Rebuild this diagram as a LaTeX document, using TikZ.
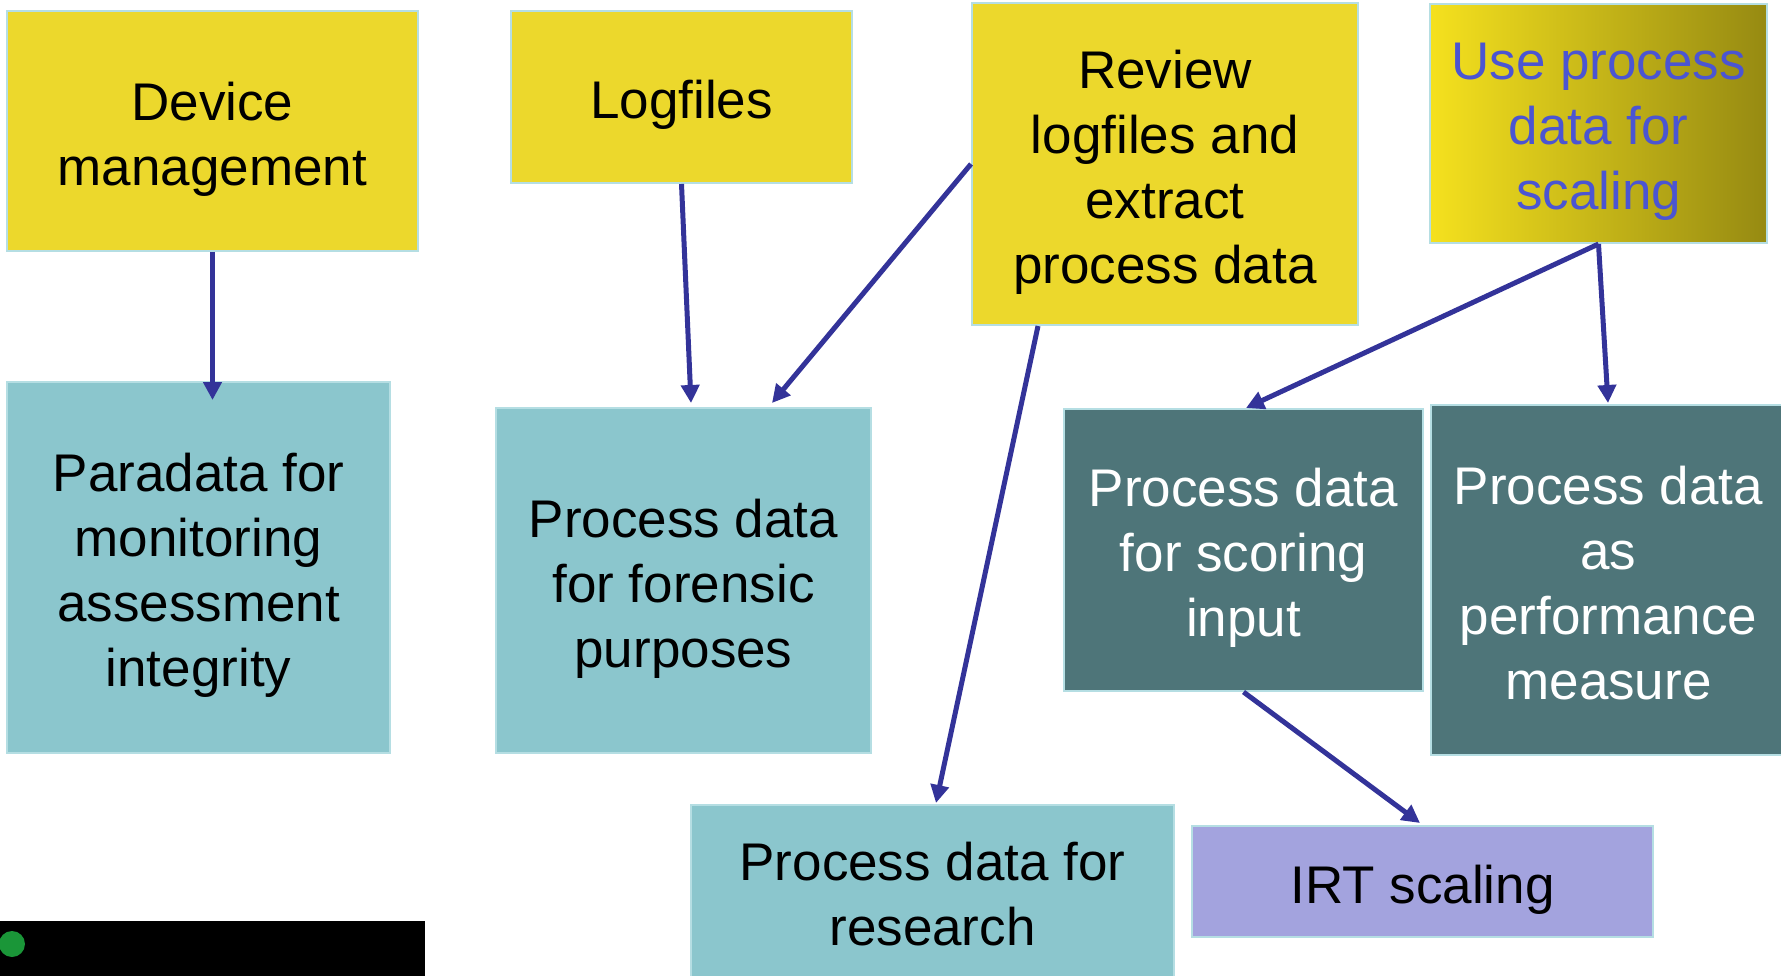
\documentclass[tikz,border=0pt]{standalone}
\usepackage{fontspec}
\setmainfont{Liberation Sans}
\usetikzlibrary{arrows.meta,calc}
\definecolor{boxyellow}{HTML}{ECD82C}
\definecolor{lightteal}{HTML}{8BC6CD}
\definecolor{darkteal}{HTML}{4E7579}
\definecolor{lavender}{HTML}{A3A3DE}
\definecolor{edgeblue}{HTML}{B5DEE3}
\definecolor{arrowblue}{HTML}{333399}
\definecolor{textblue}{HTML}{4B55D2}
\definecolor{goldleft}{HTML}{F5E11E}
\definecolor{goldright}{HTML}{968A12}
\definecolor{dotgreen}{HTML}{1A9638}
\begin{document}
\begin{tikzpicture}[x=1pt,y=-1pt,
  box/.style={draw=edgeblue, line width=2pt, inner sep=0pt},
  ybox/.style={box, fill=boxyellow},
  lbox/.style={box, fill=lightteal},
  dbox/.style={box, fill=darkteal},
  pbox/.style={box, fill=lavender},
  gbox/.style={box, left color=goldleft, right color=goldright},
  txt/.style={inner sep=0pt, align=center, text=black,
    font=\fontsize{53pt}{65pt}\selectfont},
  arr/.style={draw=arrowblue, line width=5pt, -{Triangle[length=18pt,width=18pt]}}
]
\useasboundingbox (0,0) rectangle (1781,976);

% top row
\node[ybox, minimum width=411, minimum height=240] (dev) at (212.5,131) {};
\node[ybox, minimum width=341, minimum height=172] (logf) at (681.5,97) {};
\node[ybox, minimum width=386, minimum height=322] (rev) at (1165,164) {};
\node[gbox, minimum width=337, minimum height=239] (use) at (1598.5,123.5) {};

% middle row
\node[lbox, minimum width=383, minimum height=371] (para) at (198.5,567.5) {};
\node[lbox, minimum width=375, minimum height=345] (fore) at (683.5,580.5) {};
\node[dbox, minimum width=359, minimum height=282] (scor) at (1243.5,550) {};
\node[dbox, minimum width=355, minimum height=350] (perf) at (1608.5,580) {};

% bottom row
\node[lbox, minimum width=483, minimum height=178] (res) at (932.5,894) {};
\node[pbox, minimum width=461, minimum height=111] (irt) at (1422.5,881.5) {};

% box texts, set a little below each box centre
\node[txt] (devt) at ([yshift=-8pt]dev.center) {Device\\management};
\node[txt] (logft) at ([yshift=-8pt]logf.center) {Logfiles};
\node[txt] (revt) at ([yshift=-8pt]rev.center) {Review\\logfiles and\\extract\\process data};
\node[txt, text=textblue] (uset) at ([yshift=-8pt]use.center) {Use process\\data for\\scaling};
\node[txt] (parat) at ([yshift=-8pt]para.center) {Paradata for\\monitoring\\assessment\\integrity};
\node[txt] (foret) at ([yshift=-8pt]fore.center) {Process data\\for forensic\\purposes};
\node[txt, text=white] (scort) at ([yshift=-8pt]scor.center) {Process data\\for scoring\\input};
\node[txt, text=white] (perft) at ([yshift=-3.5pt]perf.center) {Process data\\as\\performance\\measure};
\node[txt] (rest) at (res.center) {Process data for\\research};
\node[txt] (irtt) at ([yshift=-8pt]irt.center) {IRT scaling};

% bar with status dot
\fill[black] (0,921) rectangle (425,976);
\fill[dotgreen] (12,944) circle (13);

% arrow tips
\coordinate (t1) at (212.5,400);
\coordinate (t2) at (691,403);
\coordinate (t3) at (772,403);
\coordinate (t4) at (936,803);
\coordinate (t5) at (1246,408);
\coordinate (t6) at (1608,403);
\coordinate (t7) at (1420,823);

\draw[arr] (dev.south) -- (t1);
\draw[arr] (logf.south) -- (t2);
\draw[arr] (rev.west) -- (t3);
\draw[arr] ($(rev.south west)+(67,0)$) -- (t4);
\draw[arr] (use.south) -- (t5);
\draw[arr] (use.south) -- (t6);
\draw[arr] (scor.south) -- (t7);
\end{tikzpicture}
\end{document}
